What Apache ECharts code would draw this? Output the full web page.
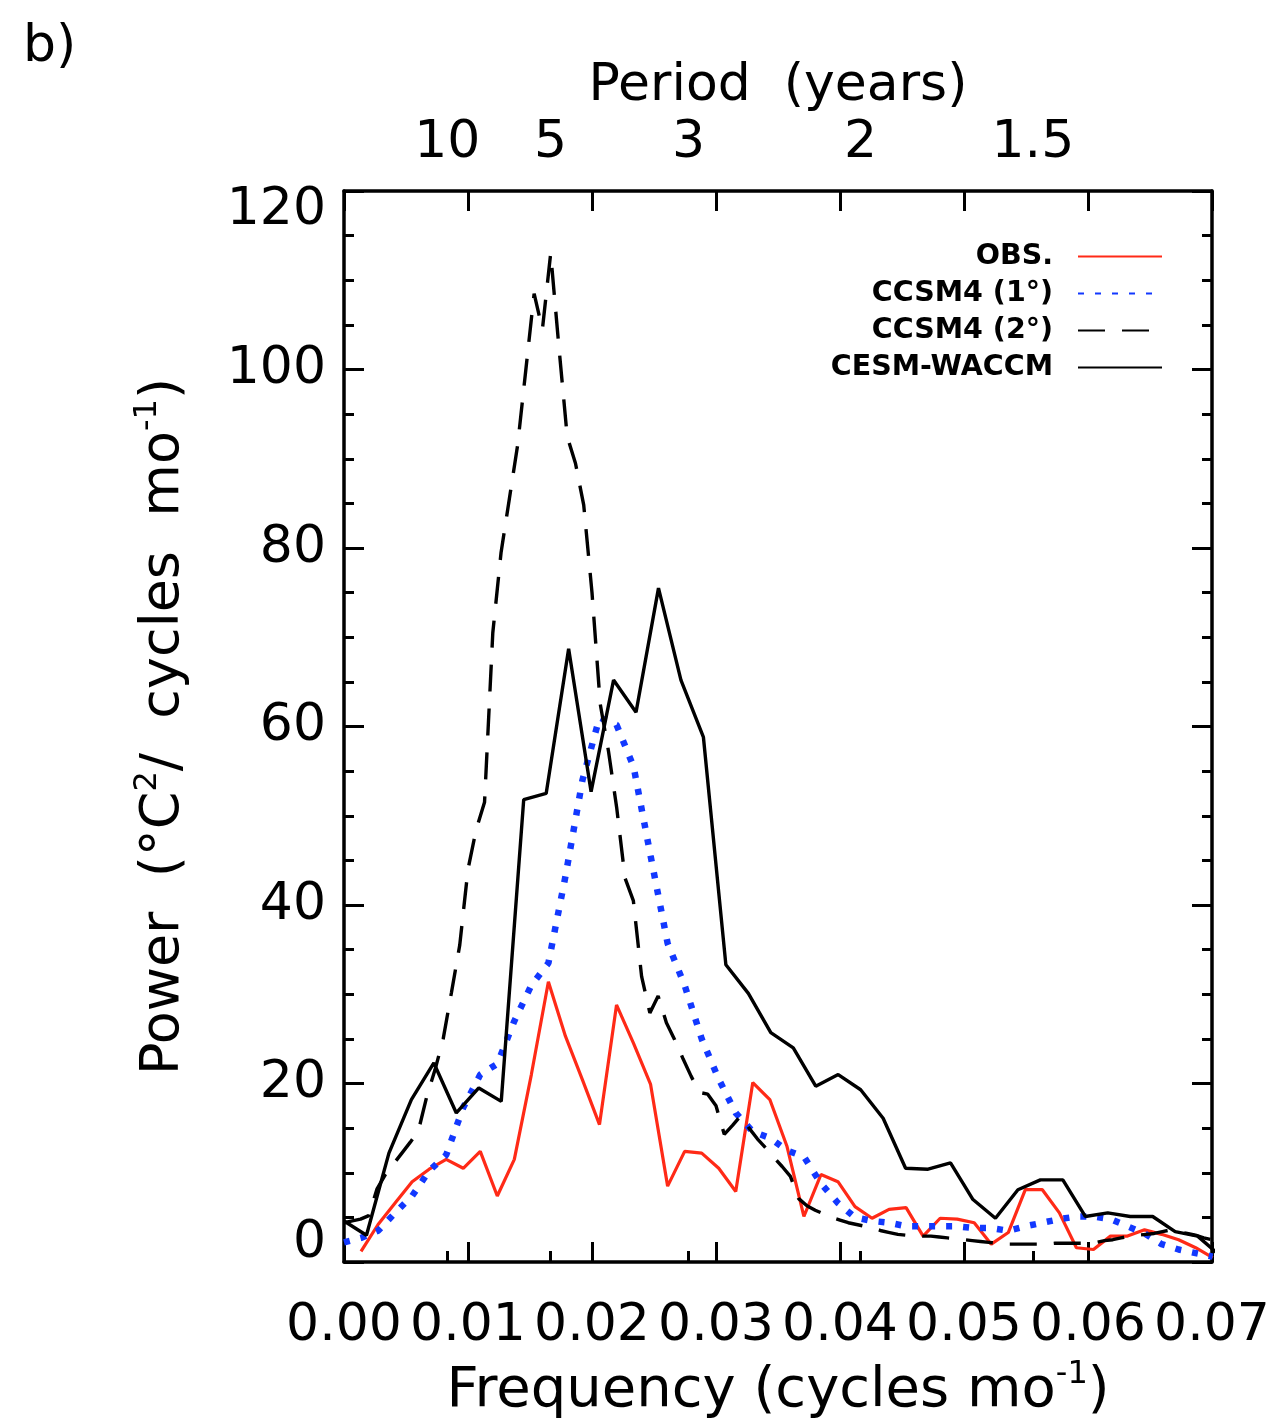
<!DOCTYPE html>
<html>
<head>
<meta charset="utf-8">
<script src="https://cdn.jsdelivr.net/npm/echarts@6/dist/echarts.min.js"></script>
<style>
html,body{margin:0;padding:0;background:#fff;}
#chart{width:1283px;height:1422px;}
</style>
</head>
<body>
<div id="chart"></div>
<script>
// ---- Data ----
// Spectral resolution of each record (frequency step = 1 / record length in months)
const obsRecordMonths = 728;      // OBS. and CCSM4 (1°)
const ccsm4_2RecordMonths = 1500; // CCSM4 (2°)
const waccmRecordMonths = 552;    // CESM-WACCM

// OBS., harmonics k = 1 .. 51
const obsPower = [1.2, 4.2, 6.6, 9.0, 10.4, 11.5, 10.5, 12.4, 7.4, 11.5, 21.0, 31.4, 25.3, 20.4, 15.4, 28.8, 24.5, 19.9, 8.5, 12.4, 12.2, 10.5, 7.9, 20.1, 18.2, 13.0, 5.1, 9.8, 9.0, 6.2, 4.9, 5.9, 6.1, 2.9, 4.9, 4.8, 4.4, 2.0, 3.3, 8.1, 8.1, 5.5, 1.6, 1.4, 2.9, 2.9, 3.6, 3.1, 2.5, 1.6, 0.5];

// CCSM4 (1°), harmonics k = 0 .. 51
const ccsm4_1Power = [2.2, 2.7, 3.5, 5.5, 7.4, 10.2, 12.0, 17.3, 21.0, 22.2, 27.0, 31.0, 33.5, 43.2, 54.0, 61.0, 60.2, 55.5, 45.5, 35.7, 31.0, 25.0, 20.5, 16.7, 14.6, 13.9, 12.5, 11.8, 8.8, 6.6, 5.0, 4.6, 4.4, 4.0, 4.0, 4.0, 4.0, 3.8, 3.8, 3.5, 4.0, 4.4, 4.8, 5.1, 5.1, 4.8, 4.0, 3.2, 2.0, 1.4, 1.0, 0.6];

// CCSM4 (2°), harmonics k = 0 .. 105
const ccsm4_2Power = [4.4, 4.6, 4.8, 5.2, 8.2, 9.8, 11.0, 12.2, 13.4, 14.7,
  18.5, 21.5, 25.0, 30.2, 35.5, 44.0, 48.5, 51.5, 70.5, 79.5,
  85.5, 91.5, 100.0, 108.5, 104.5, 113.0, 102.5, 92.5, 89.5, 84.8,
  75.0, 62.5, 57.2, 50.8, 43.0, 40.5, 32.0, 27.9, 29.8, 26.8,
  24.9, 22.8, 20.8, 19.0, 18.8, 17.5, 14.3, 15.3, 16.4, 15.0,
  13.8, 12.8, 11.7, 10.7, 9.6, 7.1, 6.3, 5.8, 5.4, 5.0,
  4.7, 4.4, 4.2, 4.0, 3.8, 3.5, 3.3, 3.1, 3.0, 3.0,
  2.9, 2.9, 2.8, 2.7, 2.6, 2.5, 2.4, 2.3, 2.2, 2.1,
  2.0, 2.0, 2.0, 2.0, 2.0, 2.0, 2.1, 2.1, 2.1, 2.1,
  2.1, 2.2, 2.4, 2.5, 2.7, 2.9, 3.0, 3.1, 3.2, 3.4,
  3.6, 3.4, 3.2, 3.0, 2.7, 2.5];

// CESM-WACCM, harmonics k = 0 .. 39
const waccmPower = [4.6, 3.0, 12.2, 18.2, 22.3, 16.7, 19.5, 18.0, 51.8, 52.5,
  68.7, 52.7, 65.2, 61.6, 75.5, 65.2, 58.8, 33.3, 30.1, 25.7,
  24.0, 19.7, 21.0, 19.3, 16.1, 10.5, 10.4, 11.1, 7.0, 4.9,
  8.1, 9.2, 9.2, 5.1, 5.5, 5.1, 5.1, 3.4, 2.9, 0.7];

const seriesNames = ['OBS.', 'CCSM4 (1°)', 'CCSM4 (2°)', 'CESM-WACCM'];
const periodYears = [10, 5, 3, 2, 1.5];
const freqMin = 0, freqMax = 0.07, freqStep = 0.01;
const powerMin = 0, powerMax = 120, powerStep = 20;

// ---- Build ----
const toPairs = (arr, months, k0) => arr.map((v, i) => [(i + k0) / months, v]);
const periodFreqs = periodYears.map(p => 1 / (12 * p));

const FONT = 'DejaVu Sans';
const BLACK = '#000';

const chart = echarts.init(document.getElementById('chart'), null, {renderer: 'canvas'});

const supRich = {
  sup: {fontSize: 32, fontFamily: FONT, color: BLACK, verticalAlign: 'top', lineHeight: 40}
};

const lineAxisStyle = {show: true, onZero: false, lineStyle: {color: BLACK, width: 3.5}};

function legendFor(i) {
  return {
    data: [seriesNames[i]],
    orient: 'vertical',
    right: 120,
    top: 242 + 37 * i,
    align: 'right',
    itemWidth: 84,
    itemHeight: 14,
    itemGap: 0,
    padding: 0,
    selectedMode: false,
    itemStyle: {opacity: 0},
    textStyle: {fontFamily: FONT, fontWeight: 'bold', fontSize: 28.5, color: BLACK, padding: [0, 20, 0, 0]}
  };
}

const option = {
  animation: false,
  backgroundColor: '#fff',
  title: {
    text: 'b)', left: 18, top: 16,
    textStyle: {fontFamily: FONT, fontWeight: 'normal', fontSize: 52, color: BLACK}
  },
  legend: [legendFor(0), legendFor(1), legendFor(2), legendFor(3)],
  grid: {left: 344, right: 71, top: 191, bottom: 160, containLabel: false, outerBoundsMode: 'none'},
  xAxis: [
    {
      type: 'value', position: 'bottom', min: freqMin, max: freqMax, interval: freqStep,
      axisLine: lineAxisStyle,
      axisTick: {show: true, inside: true, length: 20, lineStyle: {color: BLACK, width: 3}},
      axisLabel: {formatter: v => v.toFixed(2), margin: 38, fontSize: 52, fontFamily: FONT, color: BLACK},
      splitLine: {show: false},
      name: 'Frequency (cycles mo{sup|-1})',
      nameLocation: 'middle', nameGap: 97,
      nameTextStyle: {fontSize: 56, fontFamily: FONT, color: BLACK, lineHeight: 64, rich: supRich}
    },
    {
      type: 'value', position: 'top', min: freqMin, max: freqMax, interval: freqStep,
      axisLine: lineAxisStyle,
      axisTick: {show: true, inside: true, length: 20, lineStyle: {color: BLACK, width: 3}},
      axisLabel: {show: false},
      splitLine: {show: false}
    },
    {
      type: 'value', position: 'top', min: freqMin, max: freqMax,
      axisLine: {show: false},
      axisTick: {show: true, inside: false, length: 11, customValues: periodFreqs, lineStyle: {color: BLACK, width: 3}},
      axisLabel: {
        show: true, customValues: periodFreqs, margin: 22, fontSize: 52, fontFamily: FONT, color: BLACK,
        formatter: function (v) {
          let best = 0;
          periodFreqs.forEach((f, i) => { if (Math.abs(f - v) < Math.abs(periodFreqs[best] - v)) best = i; });
          return String(periodYears[best]);
        }
      },
      splitLine: {show: false},
      name: 'Period  (years)', nameLocation: 'middle', nameGap: 70,
      nameTextStyle: {fontSize: 52, fontFamily: FONT, color: BLACK}
    }
  ],
  yAxis: [
    {
      type: 'value', position: 'left', min: powerMin, max: powerMax, interval: powerStep,
      axisLine: lineAxisStyle,
      axisTick: {show: true, inside: true, length: 20, lineStyle: {color: BLACK, width: 3}},
      minorTick: {show: true, splitNumber: 4, length: 10, lineStyle: {color: BLACK, width: 3}},
      axisLabel: {
        margin: 18, fontSize: 52, lineHeight: 38, fontFamily: FONT, color: BLACK,
        verticalAlignMinLabel: 'bottom', verticalAlignMaxLabel: 'top'
      },
      splitLine: {show: false}, minorSplitLine: {show: false},
      name: 'Power  (°C{sup|2}/  cycles  mo{sup|-1})',
      nameLocation: 'middle', nameRotate: 90, nameGap: 148,
      nameTextStyle: {fontSize: 54, fontFamily: FONT, color: BLACK, lineHeight: 64, rich: supRich}
    },
    {
      type: 'value', position: 'right', min: powerMin, max: powerMax, interval: powerStep,
      axisLine: lineAxisStyle,
      axisTick: {show: true, inside: true, length: 20, lineStyle: {color: BLACK, width: 3}},
      minorTick: {show: true, splitNumber: 4, length: 10, lineStyle: {color: BLACK, width: 3}},
      axisLabel: {show: false},
      splitLine: {show: false}, minorSplitLine: {show: false}
    }
  ],
  series: [
    {
      name: seriesNames[0], type: 'line', xAxisIndex: 0, yAxisIndex: 0,
      data: toPairs(obsPower, obsRecordMonths, 1),
      symbol: 'none', smooth: false, clip: true,
      lineStyle: {color: '#ff2a17', width: 3.2}, itemStyle: {color: '#ff2a17'}, z: 3
    },
    {
      name: seriesNames[1], type: 'line', xAxisIndex: 0, yAxisIndex: 0,
      data: toPairs(ccsm4_1Power, obsRecordMonths, 0),
      symbol: 'none', smooth: false, clip: true,
      lineStyle: {color: '#1238ff', width: 6.5, type: [6, 11], cap: 'butt'}, itemStyle: {color: '#1238ff'}, z: 4
    },
    {
      name: seriesNames[2], type: 'line', xAxisIndex: 0, yAxisIndex: 0,
      data: toPairs(ccsm4_2Power, ccsm4_2RecordMonths, 0),
      symbol: 'none', smooth: false, clip: true,
      lineStyle: {color: BLACK, width: 3.4, type: [27, 17]}, itemStyle: {color: BLACK}, z: 5
    },
    {
      name: seriesNames[3], type: 'line', xAxisIndex: 0, yAxisIndex: 0,
      data: toPairs(waccmPower, waccmRecordMonths, 0),
      symbol: 'none', smooth: false, clip: true,
      lineStyle: {color: BLACK, width: 3.4}, itemStyle: {color: BLACK}, z: 6
    }
  ]
};

chart.setOption(option);
</script>
</body>
</html>
